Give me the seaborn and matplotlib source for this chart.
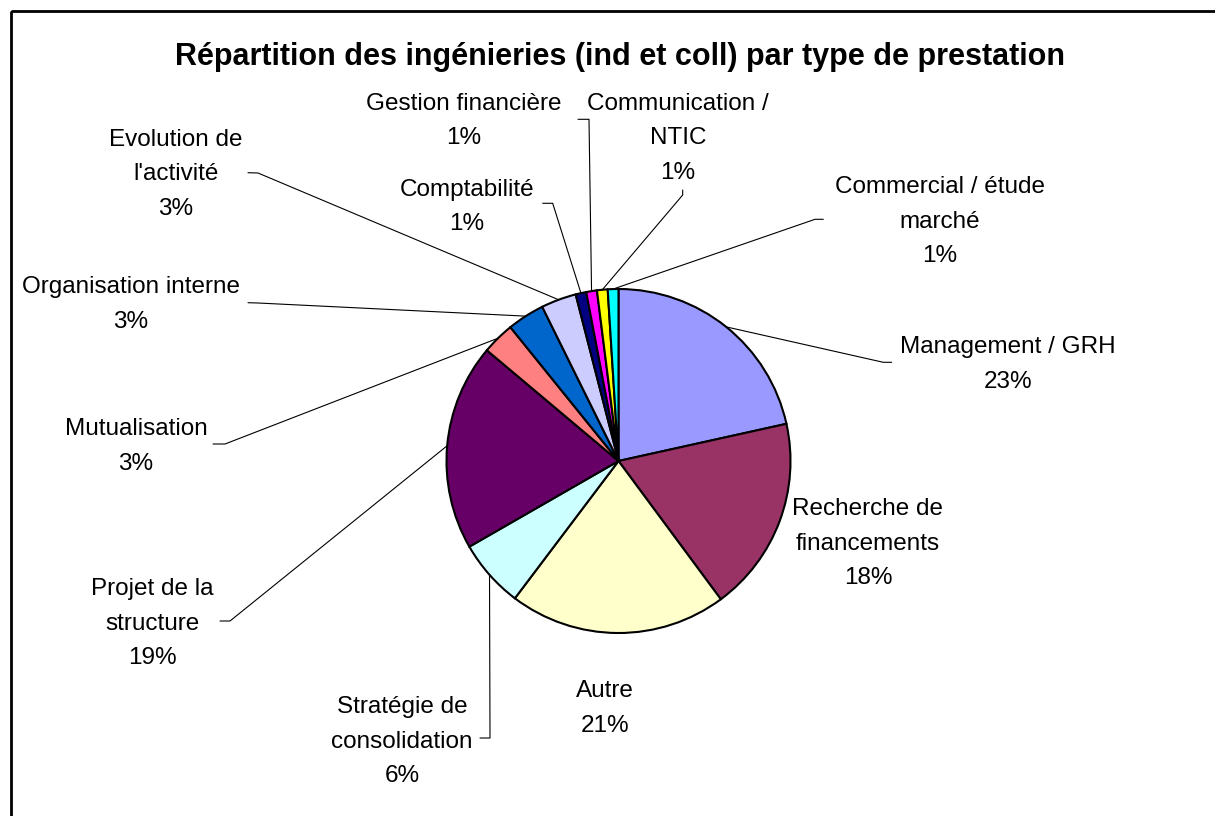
import numpy as np
import matplotlib.pyplot as plt
import seaborn as sns

categories = ["Management / GRH", "Recherche de\nfinancements", "Autre",
              "Stratégie de\nconsolidation", "Projet de la\nstructure", "Mutualisation",
              "Organisation interne", "Evolution de\nl'activité", "Comptabilité",
              "Gestion financière", "Communication /\nNTIC", "Commercial / étude\nmarché"]
shares = [21.5, 18.3, 20.4, 6.4, 19.4, 3.05, 3.5, 3.3, 1.0, 1.0, 1.0, 1.0]
pct_labels = ["23%", "18%", "21%", "6%", "19%", "3%", "3%", "3%", "1%", "1%", "1%", "1%"]
colors = ["#9999FF", "#993366", "#FFFFCC", "#CCFFFF", "#660066", "#FF8080",
          "#0066CC", "#CCCCFF", "#000080", "#FF00FF", "#FFFF00", "#00FFFF"]

title = "Répartition des ingénieries (ind et coll) par type de prestation"

# Label placement in pixel coords: centre x, centre y of first line, leader stub points
label_pos = {
    "Management / GRH": (1008, 345, [(891.7, 362.3), (883.3, 362.3)]),
    "Recherche de\nfinancements": (868, 507, []),
    "Autre": (605, 689, []),
    "Stratégie de\nconsolidation": (402, 705, [(480, 738), (490, 738)]),
    "Projet de la\nstructure": (152, 587, [(220, 621), (230, 621)]),
    "Mutualisation": (136, 427, [(213, 444), (225, 444)]),
    "Organisation interne": (131, 285, [(248, 302.7), (258, 303)]),
    "Evolution de\nl'activité": (176, 138, [(248, 172.7), (258, 173)]),
    "Comptabilité": (467, 188, [(542.7, 203.3), (552.7, 203.3)]),
    "Gestion financière": (464, 102, [(578, 119.3), (589, 119.3)]),
    "Communication /\nNTIC": (678, 102, [(682.7, 190), (682.7, 195)]),
    "Commercial / étude\nmarché": (940, 185, [(823.3, 219.3), (815, 219.3)]),
}

sns.set_theme(style="white")
plt.rcParams['font.family'] = ['Liberation Sans', 'DejaVu Sans']

cx, cy, r = 618.5, 461, 172
line_step = 34.5

fig = plt.figure(figsize=(12.15, 8.16), dpi=100)
ax = fig.add_axes([0, 0, 1, 1])

wedges, _ = ax.pie(shares, colors=colors, startangle=270, counterclock=True,
                   center=(cx, cy), radius=r,
                   wedgeprops=dict(edgecolor='black', linewidth=1.5))
ax.set_xlim(0, 1215)
ax.set_ylim(816, 0)
ax.set_aspect('equal')
ax.axis('off')

for w, name, pct in zip(wedges, categories, pct_labels):
    x, y0, stub = label_pos[name]
    lines = name.split("\n") + [pct]
    for i, line in enumerate(lines):
        ax.text(x, y0 + i * line_step + 8, line, ha='center', va='baseline',
                fontsize=17.5, color='black')
    if stub:
        mid = np.deg2rad((w.theta1 + w.theta2) / 2)
        anchor = (cx + r * np.cos(mid), cy + r * np.sin(mid))
        pts = stub + [anchor]
        ax.plot([p[0] for p in pts], [p[1] for p in pts], color='black', lw=0.8)

ax.text(620, 57, title, ha='center', va='center', fontsize=22, fontweight='bold',
        color='black')

# chart frame (right and bottom edges fall outside the picture)
ax.add_patch(plt.Rectangle((10.5, 10.5), 1400, 1000, fill=False, lw=2, edgecolor='black'))

plt.savefig("out.png", dpi=100)
